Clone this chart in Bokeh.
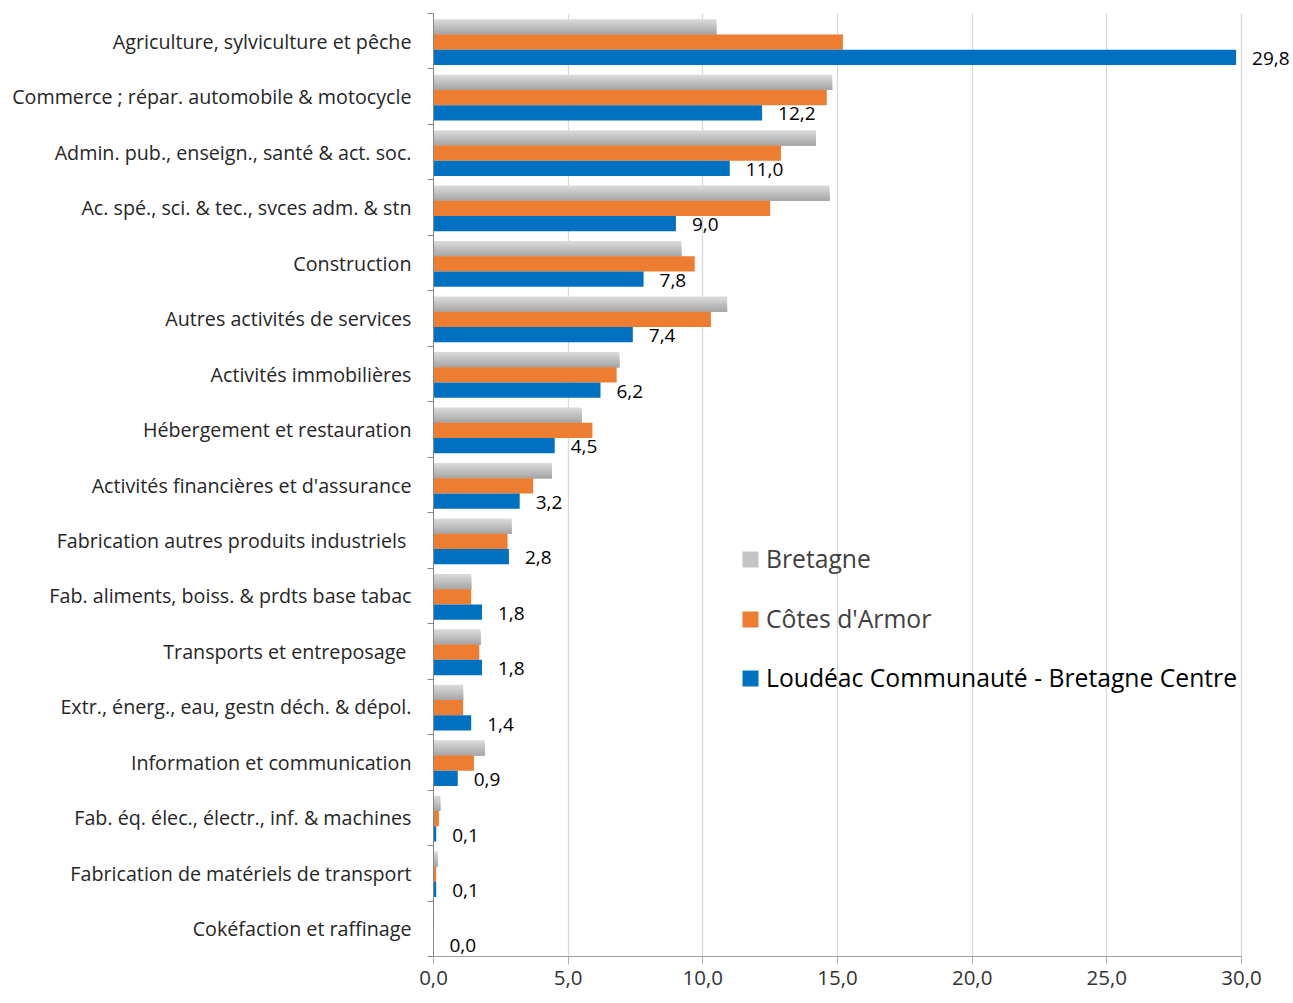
from bokeh.plotting import figure
from bokeh.models import Range1d, FixedTicker, Legend, LegendItem, ColumnDataSource, LabelSet
from bokeh.transform import dodge
from bokeh.embed import file_html
from bokeh.resources import INLINE
from bokeh.core.properties import value

categories = [
    "Agriculture, sylviculture et pêche",
    "Commerce ; répar. automobile & motocycle",
    "Admin. pub., enseign., santé & act. soc.",
    "Ac. spé., sci. & tec., svces adm. & stn",
    "Construction",
    "Autres activités de services",
    "Activités immobilières",
    "Hébergement et restauration",
    "Activités financières et d'assurance",
    "Fabrication autres produits industriels ",
    "Fab. aliments, boiss. & prdts base tabac",
    "Transports et entreposage ",
    "Extr., énerg., eau, gestn déch. & dépol.",
    "Information et communication",
    "Fab. éq. élec., électr., inf. & machines",
    "Fabrication de matériels de transport",
    "Cokéfaction et raffinage",
]
bretagne = [10.5, 14.8, 14.2, 14.7, 9.2, 10.9, 6.9, 5.5, 4.4, 2.9, 1.4, 1.75, 1.1, 1.9, 0.25, 0.15, 0.02]
cotes_armor = [15.2, 14.6, 12.9, 12.5, 9.7, 10.3, 6.8, 5.9, 3.7, 2.75, 1.4, 1.7, 1.1, 1.5, 0.2, 0.1, 0.01]
loudeac = [29.8, 12.2, 11.0, 9.0, 7.8, 7.4, 6.2, 4.5, 3.2, 2.8, 1.8, 1.8, 1.4, 0.9, 0.1, 0.1, 0.0]
series_names = ["Bretagne", "Côtes d'Armor", "Loudéac Communauté - Bretagne Centre"]
x_ticks = [0, 5, 10, 15, 20, 25, 30]
x_tick_labels = ["0,0", "5,0", "10,0", "15,0", "20,0", "25,0", "30,0"]

FONT = "Open Sans"
ORANGE = "#ED7D31"
BLUE = "#0070C0"
GRAYS = ["#d9d9d9", "#d2d2d2", "#cbcbcb", "#c4c4c4", "#bdbdbd", "#b6b6b6", "#afafaf", "#a8a8a8"]

n = len(categories)
bh = 0.275
shift = 0.015
src = ColumnDataSource(dict(
    yc=[i + shift for i in range(n)],
    b=bretagne,
    c=cotes_armor,
    l=loudeac,
    ly=[i + shift + bh + 0.02 for i in range(n)],
    lab=[f"{v:.1f}".replace(".", ",") for v in loudeac],
))

# value axis: 808 px for 0..30; frame extended to the right so the last data label is not clipped
axis_px = 808
frame_w = 860
x_max = x_ticks[-1]
x_end = x_max * frame_w / axis_px

p = figure(frame_width=frame_w, frame_height=943, x_range=Range1d(0, x_end), y_range=Range1d(n - 0.5, -0.5),
           output_backend="svg", toolbar_location=None,
           min_border_left=433, min_border_right=0, min_border_top=13, min_border_bottom=34)
p.outline_line_color = None
p.background_fill_color = "white"

# Bretagne: vertical gradient simulated with nested layers (light on top, dark at bottom)
s = bh / len(GRAYS)
b_renderers = []
for k, col in enumerate(GRAYS):
    h = bh - k * s
    off = -1.5 * bh + k * s + h / 2
    r = p.hbar(y=dodge("yc", off), left=0, right="b", height=h,
               fill_color=col, line_color=None, source=src)
    b_renderers.append(r)
r_c = p.hbar(y="yc", left=0, right="c", height=bh, fill_color=ORANGE, line_color=None, source=src)
r_l = p.hbar(y=dodge("yc", bh), left=0, right="l", height=bh, fill_color=BLUE, line_color=None, source=src)

labels = LabelSet(x="l", y="ly", text="lab", x_offset=16, text_baseline="middle", text_align="left",
                  text_font=value(FONT), text_font_size=value("19px"), text_color=value("black"), source=src)
p.add_layout(labels)

# Axes
p.xaxis.ticker = FixedTicker(ticks=x_ticks)
p.xgrid.ticker = FixedTicker(ticks=x_ticks)
p.xaxis.bounds = (0, x_max)
p.xgrid.bounds = (0, x_max)
p.xaxis.major_label_overrides = {t: s_ for t, s_ in zip(x_ticks, x_tick_labels)}
p.xaxis.major_label_text_font = FONT
p.xaxis.major_label_text_font_size = "20.5px"
p.xaxis.major_label_text_color = "#333333"
p.xaxis.major_label_standoff = 6
p.xaxis.axis_line_color = "#a0a0a0"
p.xaxis.major_tick_line_color = "#b0b0b0"
p.xaxis.major_tick_out = 8
p.xaxis.major_tick_in = 0
p.xaxis.minor_tick_line_color = None
p.xgrid.grid_line_color = "#d9d9d9"
p.xgrid.grid_line_width = 1.3

p.yaxis.ticker = FixedTicker(ticks=list(range(n)), minor_ticks=[i - 0.5 for i in range(n + 1)])
p.yaxis.major_label_overrides = {i: c for i, c in enumerate(categories)}
p.yaxis.major_label_text_font = FONT
p.yaxis.major_label_text_font_size = "19.7px"
p.yaxis.major_label_text_color = "#262626"
p.yaxis.major_tick_out = 0
p.yaxis.major_tick_in = 0
p.yaxis.major_label_standoff = 16
p.yaxis.minor_tick_out = 6
p.yaxis.minor_tick_in = 0
p.yaxis.minor_tick_line_color = "#868686"
p.yaxis.axis_line_color = "#868686"
p.ygrid.visible = False

# Legends (one per item for precise placement)
leg_specs = [
    (series_names[0], [b_renderers[3]], "#404040", 381),
    (series_names[1], [r_c], "#404040", 321),
    (series_names[2], [r_l], "#000000", 262),
]
for name, rends, tcol, ybot in leg_specs:
    leg = Legend(items=[LegendItem(label=name, renderers=rends)], location=(307, ybot),
                 border_line_color=None, background_fill_alpha=0, padding=0, margin=0,
                 glyph_width=20, glyph_height=20, label_standoff=6,
                 label_text_font=FONT, label_text_font_size="24.7px", label_text_color=tcol)
    p.add_layout(leg, "center")

open("out.html", "w").write(file_html(p, INLINE))
